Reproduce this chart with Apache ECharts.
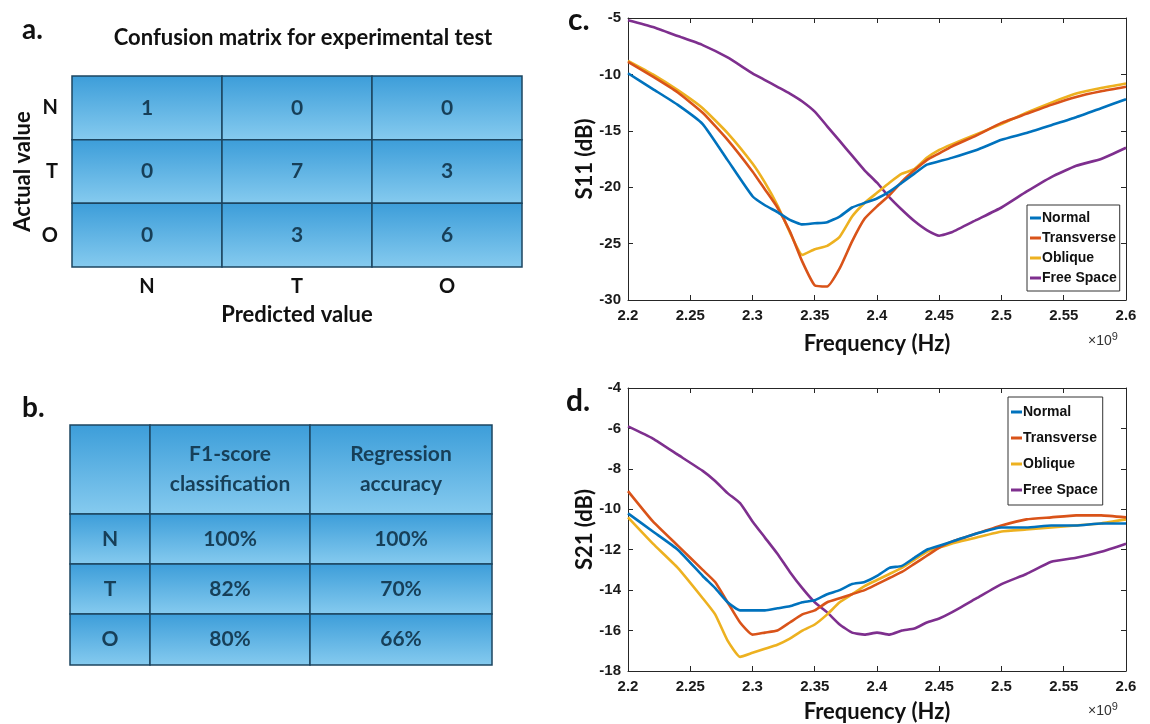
<!DOCTYPE html>
<html>
<head>
<meta charset="utf-8">
<script src="https://cdn.jsdelivr.net/npm/echarts@6/dist/echarts.min.js"></script>
<style>
html, body { margin: 0; padding: 0; background: #fff; }
#fig { width: 1150px; height: 724px; }
</style>
</head>
<body>
<div id="fig"></div>
<script>
// ---- data ----
var classes = ['N', 'T', 'O'];
// rows = actual, columns = predicted
var confusion = [
    [1, 0, 0],
    [0, 7, 3],
    [0, 3, 6]
];
var tableHeader = ['', 'F1-score\nclassification', 'Regression\naccuracy'];
var f1Score = ['100%', '82%', '80%'];
var regAccuracy = ['100%', '70%', '66%'];

var seriesNames = ['Normal', 'Transverse', 'Oblique', 'Free Space'];

// panel c, S11 (dB), frequency in GHz (axis shows x10^9)
var freqC = [2.20, 2.22, 2.24, 2.26, 2.28, 2.30, 2.31, 2.32, 2.33, 2.34, 2.35, 2.36, 2.37, 2.38, 2.39,
             2.40, 2.41, 2.42, 2.43, 2.44, 2.45, 2.46, 2.48, 2.50, 2.52, 2.54, 2.56, 2.58, 2.60];
var s11Normal = [-9.9, -11.3, -12.7, -14.4, -17.6, -20.8, -21.6, -22.2, -22.9, -23.3, -23.2, -23.1, -22.6, -21.8, -21.4,
                 -21.0, -20.4, -19.6, -18.8, -18.0, -17.7, -17.4, -16.7, -15.8, -15.2, -14.5, -13.8, -13.0, -12.2];
var s11Transverse = [-8.9, -10.2, -11.6, -13.4, -15.8, -18.6, -20.2, -21.8, -23.9, -26.6, -28.7, -28.8, -27.2, -24.8, -22.8,
                     -21.7, -20.7, -19.5, -18.5, -17.6, -17.0, -16.4, -15.4, -14.3, -13.5, -12.7, -12.0, -11.5, -11.1];
var s11Oblique = [-8.8, -10.0, -11.4, -13.0, -15.2, -17.9, -19.6, -21.6, -24.0, -26.0, -25.5, -25.2, -24.4, -22.6, -21.4,
                  -20.5, -19.6, -18.8, -18.4, -17.4, -16.7, -16.2, -15.3, -14.4, -13.4, -12.5, -11.7, -11.2, -10.8];
var s11Free = [-5.2, -5.8, -6.6, -7.4, -8.5, -9.9, -10.5, -11.1, -11.7, -12.4, -13.3, -14.6, -15.9, -17.2, -18.5,
               -19.6, -20.9, -22.0, -23.0, -23.8, -24.3, -24.0, -22.9, -21.8, -20.4, -19.1, -18.1, -17.5, -16.5];

// panel d, S21 (dB)
var freqD = [2.20, 2.22, 2.24, 2.26, 2.27, 2.28, 2.29, 2.30, 2.31, 2.32, 2.33, 2.34, 2.35, 2.36, 2.37, 2.38,
             2.39, 2.40, 2.41, 2.42, 2.43, 2.44, 2.45, 2.46, 2.48, 2.50, 2.52, 2.54, 2.56, 2.58, 2.60];
var s21Normal = [-10.2, -11.1, -12.0, -13.3, -13.9, -14.6, -15.0, -15.0, -15.0, -14.9, -14.8, -14.6, -14.5, -14.2, -14.0, -13.7,
                 -13.6, -13.3, -12.9, -12.8, -12.4, -12.0, -11.8, -11.6, -11.2, -10.9, -10.9, -10.8, -10.8, -10.7, -10.7];
var s21Transverse = [-9.1, -10.6, -11.8, -13.0, -13.6, -14.6, -15.6, -16.2, -16.1, -16.0, -15.6, -15.2, -15.0, -14.6, -14.4, -14.2,
                     -14.0, -13.7, -13.4, -13.1, -12.7, -12.3, -11.9, -11.6, -11.2, -10.8, -10.5, -10.4, -10.3, -10.3, -10.4];
var s21Oblique = [-10.4, -11.7, -12.9, -14.4, -15.2, -16.5, -17.3, -17.1, -16.9, -16.7, -16.4, -16.0, -15.7, -15.2, -14.6, -14.2,
                  -13.8, -13.5, -13.2, -12.9, -12.5, -12.1, -11.9, -11.7, -11.4, -11.1, -11.0, -10.9, -10.8, -10.7, -10.5];
var s21Free = [-5.9, -6.5, -7.3, -8.1, -8.6, -9.2, -9.7, -10.6, -11.4, -12.2, -13.1, -13.9, -14.6, -15.1, -15.7, -16.1,
               -16.2, -16.1, -16.2, -16.0, -15.9, -15.6, -15.4, -15.1, -14.4, -13.7, -13.2, -12.6, -12.4, -12.1, -11.7];

// ---- styling / layout ----
var lineColors = ['#0072BD', '#D95319', '#EDB120', '#7E2F8E'];
var uiFont = 'Lato, "Open Sans", sans-serif';
var plotFont = '"Liberation Sans", Arial, sans-serif';
var textDark = '#173f58';
var cellBorder = '#1c4560';
var tableColEdges = [0, 80, 240, 422];
var tableRowEdges = [0, 89, 139, 189, 240];

function cellFill() {
    return new echarts.graphic.LinearGradient(0, 0, 0, 1, [
        { offset: 0, color: '#3c9dd9' },
        { offset: 1, color: '#86cbef' }
    ]);
}

function pairs(xs, ys) {
    return xs.map(function (x, i) { return [x, ys[i]]; });
}

var matrixData = [];
confusion.forEach(function (row, r) {
    row.forEach(function (v, c) { matrixData.push([c, r, v]); });
});

var tableCells = [];
tableHeader.forEach(function (h, c) { tableCells.push({ col: c, row: 0, text: h }); });
classes.forEach(function (k, r) {
    tableCells.push({ col: 0, row: r + 1, text: k });
    tableCells.push({ col: 1, row: r + 1, text: f1Score[r] });
    tableCells.push({ col: 2, row: r + 1, text: regAccuracy[r] });
});

function renderMatrixCell(params, api) {
    var p = api.coord([api.value(0), api.value(1)]);
    var s = api.size([1, 1]);
    return {
        type: 'group',
        children: [
            { type: 'rect', shape: { x: p[0] - s[0] / 2, y: p[1] - s[1] / 2, width: s[0], height: s[1] },
              style: { fill: cellFill(), stroke: cellBorder, lineWidth: 1.5 } },
            { type: 'text', x: p[0], y: p[1],
              style: { text: String(api.value(2)), font: 'bold 21px ' + uiFont, fill: textDark,
                       textAlign: 'center', textVerticalAlign: 'middle' } }
        ]
    };
}

function renderTableCell(params, api) {
    var cell = tableCells[params.dataIndex];
    var p0 = api.coord([tableColEdges[cell.col], tableRowEdges[cell.row]]);
    var p1 = api.coord([tableColEdges[cell.col + 1], tableRowEdges[cell.row + 1]]);
    return {
        type: 'group',
        children: [
            { type: 'rect', shape: { x: p0[0], y: p0[1], width: p1[0] - p0[0], height: p1[1] - p0[1] },
              style: { fill: cellFill(), stroke: cellBorder, lineWidth: 1.5 } },
            { type: 'text', x: (p0[0] + p1[0]) / 2, y: (p0[1] + p1[1]) / 2,
              style: { text: cell.text, font: 'bold 21px ' + uiFont, fill: textDark, lineHeight: 30,
                       textAlign: 'center', textVerticalAlign: 'middle' } }
        ]
    };
}

function plotX(gridIndex, top) {
    return {
        type: 'value', gridIndex: gridIndex, position: top ? 'top' : 'bottom',
        min: 2.2, max: 2.6, interval: 0.05,
        axisLine: { show: true, onZero: false, lineStyle: { color: '#262626', width: 1 } },
        axisTick: { show: true, inside: true, length: 5, lineStyle: { color: '#262626' } },
        axisLabel: { show: !top, margin: 8, color: '#1a1a1a', fontFamily: plotFont, fontWeight: 'bold', fontSize: 15 },
        splitLine: { show: false }
    };
}

function plotY(gridIndex, right, min, max, interval) {
    return {
        type: 'value', gridIndex: gridIndex, position: right ? 'right' : 'left',
        min: min, max: max, interval: interval,
        axisLine: { show: true, onZero: false, lineStyle: { color: '#262626', width: 1 } },
        axisTick: { show: true, inside: true, length: 5, lineStyle: { color: '#262626' } },
        axisLabel: { show: !right, margin: 7, color: '#1a1a1a', fontFamily: plotFont, fontWeight: 'bold', fontSize: 15 },
        splitLine: { show: false }
    };
}

function lineSeries(name, idx, axisIndex, xs, ys) {
    return {
        name: name, type: 'line', xAxisIndex: axisIndex, yAxisIndex: axisIndex,
        data: pairs(xs, ys), showSymbol: false, smooth: 0.15,
        lineStyle: { width: 2.6, color: lineColors[idx] }, itemStyle: { color: lineColors[idx] },
        z: 5 - idx
    };
}

var xAxes = [
    { type: 'category', gridIndex: 0, data: classes,
      name: 'Predicted value', nameLocation: 'middle', nameGap: 37,
      nameTextStyle: { fontFamily: uiFont, fontWeight: 'bold', fontSize: 22, color: '#111' },
      axisLine: { show: false }, axisTick: { show: false },
      axisLabel: { margin: 10, fontFamily: uiFont, fontWeight: 'bold', fontSize: 20, color: '#111' } },
    { type: 'value', gridIndex: 1, min: 0, max: 422, show: false },
    plotX(2, false), plotX(2, true),
    plotX(3, false), plotX(3, true)
];
var yAxes = [
    { type: 'category', gridIndex: 0, data: classes, inverse: true,
      name: 'Actual value', nameLocation: 'middle', nameGap: 38,
      nameTextStyle: { fontFamily: uiFont, fontWeight: 'bold', fontSize: 22, color: '#111' },
      axisLine: { show: false }, axisTick: { show: false },
      axisLabel: { margin: 14, fontFamily: uiFont, fontWeight: 'bold', fontSize: 20, color: '#111' } },
    { type: 'value', gridIndex: 1, min: 0, max: 240, inverse: true, show: false },
    plotY(2, false, -30, -5, 5), plotY(2, true, -30, -5, 5),
    plotY(3, false, -18, -4, 2), plotY(3, true, -18, -4, 2)
];
xAxes[2].name = 'Frequency (Hz)';
xAxes[4].name = 'Frequency (Hz)';
yAxes[2].name = 'S11 (dB)';
yAxes[4].name = 'S21 (dB)';
[xAxes[2], xAxes[4], yAxes[2], yAxes[4]].forEach(function (a, i) {
    a.nameLocation = 'middle';
    a.nameGap = i === 0 ? 33 : (i === 1 ? 30 : 32);
    a.nameTextStyle = { fontFamily: uiFont, fontWeight: 'bold', fontSize: 22, color: '#111' };
});

var series = [
    { type: 'custom', xAxisIndex: 0, yAxisIndex: 0, renderItem: renderMatrixCell, data: matrixData },
    { type: 'custom', xAxisIndex: 1, yAxisIndex: 1, renderItem: renderTableCell,
      data: tableCells.map(function (c) { return [c.col, c.row]; }) },
    lineSeries(seriesNames[0], 0, 2, freqC, s11Normal),
    lineSeries(seriesNames[1], 1, 2, freqC, s11Transverse),
    lineSeries(seriesNames[2], 2, 2, freqC, s11Oblique),
    lineSeries(seriesNames[3], 3, 2, freqC, s11Free),
    lineSeries(seriesNames[0], 0, 4, freqD, s21Normal),
    lineSeries(seriesNames[1], 1, 4, freqD, s21Transverse),
    lineSeries(seriesNames[2], 2, 4, freqD, s21Oblique),
    lineSeries(seriesNames[3], 3, 4, freqD, s21Free)
];

function legendBox(left, top, gap, pad) {
    return {
        data: seriesNames, orient: 'vertical', left: left, top: top,
        icon: 'rect', itemWidth: 11, itemHeight: 3, itemGap: gap,
        padding: pad, backgroundColor: '#fff',
        borderColor: '#333', borderWidth: 1, selectedMode: false,
        textStyle: { fontFamily: plotFont, fontWeight: 'bold', fontSize: 14, color: '#111', padding: [0, 0, 0, -4] }
    };
}

function label(x, y, text, size) {
    return { type: 'text', x: x, y: y, z: 10,
             style: { text: text, font: 'bold ' + size + 'px ' + uiFont, fill: '#111',
                      textAlign: 'left', textVerticalAlign: 'middle' } };
}

function exponent(x, y) {
    return { type: 'text', x: x, y: y, z: 10,
             style: { text: '×10{s|9}', font: '14px ' + plotFont, fill: '#333',
                      textAlign: 'left', textVerticalAlign: 'middle',
                      rich: { s: { fontSize: 11, fontFamily: plotFont, verticalAlign: 'top', padding: [0, 0, 8, 0] } } } };
}

var chart = echarts.init(document.getElementById('fig'));
chart.setOption({
    backgroundColor: '#fff',
    animation: false,
    grid: [
        { left: 72, top: 76, width: 450, height: 191 },
        { left: 70, top: 425, width: 422, height: 240 },
        { left: 628, top: 18, width: 498, height: 282 },
        { left: 628, top: 388, width: 498, height: 284 }
    ],
    xAxis: xAxes,
    yAxis: yAxes,
    legend: [legendBox(1027, 205, 6, [6, 3, 6, 3]), legendBox(1008, 397, 12, [8, 5, 8, 3])],
    series: series,
    graphic: [
        label(22, 30, 'a.', 28),
        label(22, 408, 'b.', 28),
        label(568, 20, 'c.', 30),
        label(566, 401, 'd.', 30),
        { type: 'text', x: 303, y: 38, z: 10,
          style: { text: 'Confusion matrix for experimental test', font: 'bold 22px ' + uiFont, fill: '#111',
                   textAlign: 'center', textVerticalAlign: 'middle' } },
        exponent(1088, 341),
        exponent(1088, 711)
    ]
});
</script>
</body>
</html>
